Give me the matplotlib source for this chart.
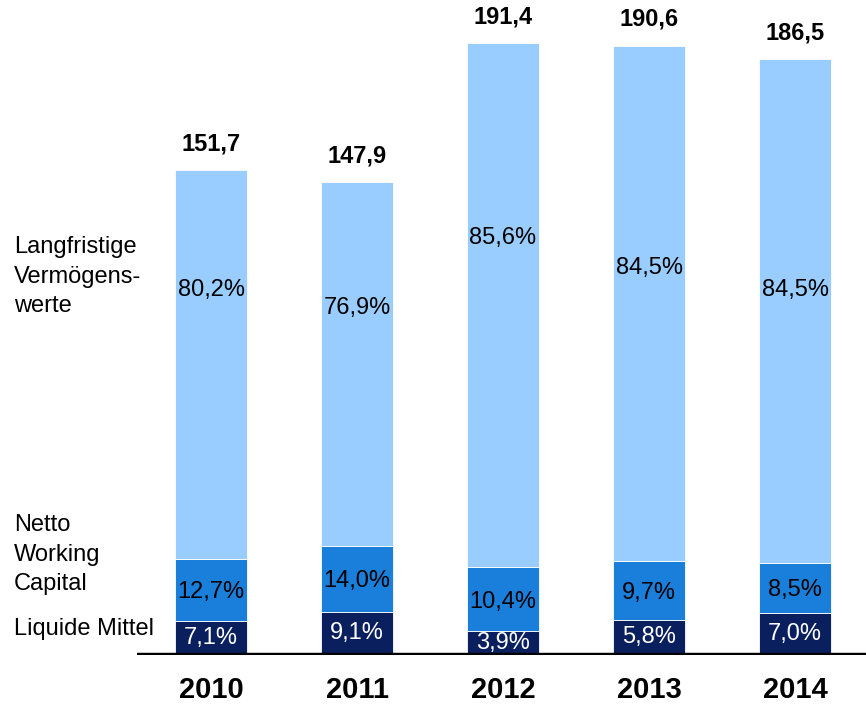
import matplotlib.pyplot as plt
import numpy as np

plt.rcParams['font.family'] = ['Liberation Sans', 'DejaVu Sans']

years = ['2010', '2011', '2012', '2013', '2014']
totals = [151.7, 147.9, 191.4, 190.6, 186.5]
liquide_pct = [7.1, 9.1, 3.9, 5.8, 7.0]
nwc_pct = [12.7, 14.0, 10.4, 9.7, 8.5]
lang_pct = [80.2, 76.9, 85.6, 84.5, 84.5]

# where the long-term label sits inside the bar (data units)
lang_label_y = [114.2, 108.5, 130.4, 121.0, 114.2]

c_dark = '#0A1F5E'
c_mid = '#1A7FDA'
c_light = '#99CCFF'

W, H = 866, 705
fig = plt.figure(figsize=(W / 100, H / 100), dpi=100)
ax = fig.add_axes([137 / W, 1 - 655 / H, 1 - 137 / W, 655 / H])

x = np.arange(len(years))
tot = np.array(totals)
liq = tot * np.array(liquide_pct) / 100
nwc = tot * np.array(nwc_pct) / 100
lang = tot - liq - nwc

bw = 0.493
ax.bar(x, liq, bw, color=c_dark, edgecolor='white', linewidth=0.6)
ax.bar(x, nwc, bw, bottom=liq, color=c_mid, edgecolor='white', linewidth=0.6)
ax.bar(x, lang, bw, bottom=liq + nwc, color=c_light, edgecolor='white', linewidth=0.6)

fmt = lambda v: ('%.1f' % v).replace('.', ',')
for i in range(len(years)):
    ax.text(x[i], liq[i] / 2, fmt(liquide_pct[i]) + '%', ha='center', va='center',
            fontsize=17, color='white')
    ax.text(x[i], liq[i] + nwc[i] / 2 - 0.8, fmt(nwc_pct[i]) + '%', ha='center', va='center',
            fontsize=17, color='black')
    ax.text(x[i], lang_label_y[i], fmt(lang_pct[i]) + '%', ha='center', va='center',
            fontsize=17, color='black')
    ax.text(x[i], tot[i] + 8.2, fmt(totals[i]), ha='center', va='center',
            fontsize=17, fontweight='bold', color='black')

ax.set_xlim(-0.507, 4.486)
ax.set_ylim(0, 655 / 3.197)
ax.axhline(0, color='black', linewidth=3.2, zorder=5)
for s in ax.spines.values():
    s.set_visible(False)
ax.set_yticks([])
ax.set_xticks(x)
ax.set_xticklabels(years, fontsize=21, fontweight='bold')
ax.tick_params(axis='x', length=0, pad=15)

fig.text(14 / W, 1 - 236 / H, 'Langfristige\nVermögens-\nwerte', fontsize=17,
         va='top', ha='left', linespacing=1.45)
fig.text(14 / W, 1 - 514 / H, 'Netto\nWorking\nCapital', fontsize=17,
         va='top', ha='left', linespacing=1.45)
fig.text(14 / W, 1 - 635 / H, 'Liquide Mittel', fontsize=17, va='baseline', ha='left')

fig.savefig('out.png', dpi=100)
